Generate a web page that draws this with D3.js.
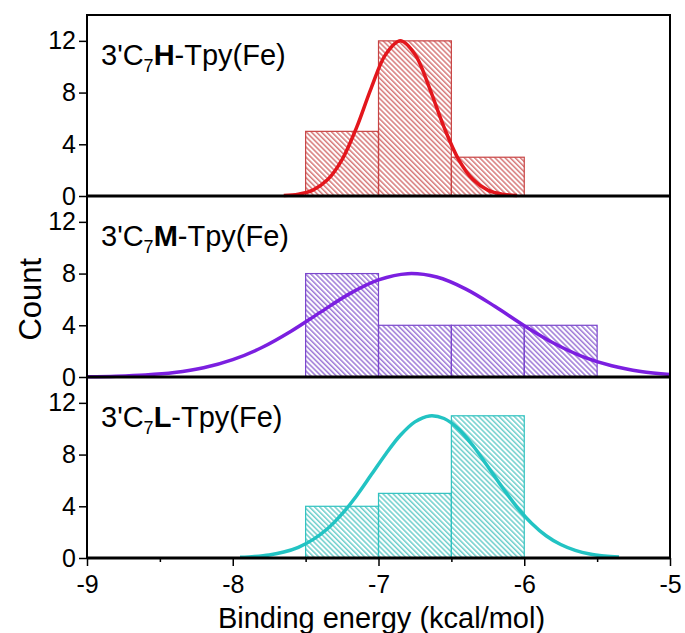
<!DOCTYPE html>
<html>
<head>
<meta charset="utf-8">
<script src="https://cdn.jsdelivr.net/npm/d3@7"></script>
<style>
  html, body { margin: 0; padding: 0; background: #fff; }
  svg { display: block; }
  text { font-family: "Liberation Sans", Arial, sans-serif; fill: #000; }
</style>
</head>
<body>
<div id="chart"></div>
<script>
// ---------------- data ----------------
const panelNames = ["H", "M", "L"];
const binWidth = 0.5;

const hBinStarts = [-7.5, -7.0, -6.5];
const hCounts    = [5, 12, 3];
const mBinStarts = [-7.5, -7.0, -6.5, -6.0];
const mCounts    = [8, 4, 4, 4];
const lBinStarts = [-7.5, -7.0, -6.5];
const lCounts    = [4, 5, 11];

// fitted curves
const hCurveX = [-7.65,-7.55,-7.45,-7.35,-7.25,-7.15,-7.05,-6.95,-6.85,-6.75,-6.65,-6.55,-6.45,-6.35,-6.25,-6.15,-6.05];
const hCurveY = [0.04,0.14,0.46,1.25,2.82,5.31,8.35,10.96,12.0,10.96,8.35,5.31,2.82,1.25,0.46,0.14,0.04];
const mCurveX = [-9.0,-8.8,-8.6,-8.4,-8.2,-8.0,-7.8,-7.6,-7.4,-7.2,-7.0,-6.8,-6.6,-6.4,-6.2,-6.0,-5.8,-5.6,-5.4,-5.2,-5.0];
const mCurveY = [0.02,0.06,0.15,0.34,0.71,1.34,2.28,3.54,5.00,6.43,7.51,7.99,7.73,6.80,5.45,3.97,2.63,1.58,0.87,0.43,0.20];
const lCurveX = [-7.95,-7.85,-7.75,-7.65,-7.55,-7.45,-7.35,-7.25,-7.15,-7.05,-6.95,-6.85,-6.75,-6.65,-6.55,-6.45,-6.35,-6.25,-6.15,-6.05,-5.95,-5.85,-5.75,-5.65,-5.55,-5.45,-5.35];
const lCurveY = [0.05,0.12,0.24,0.46,0.83,1.42,2.26,3.41,4.82,6.43,8.05,9.49,10.53,10.99,10.79,9.97,8.66,7.08,5.45,3.94,2.69,1.72,1.04,0.59,0.31,0.16,0.07];

const xTicks = [-9, -8, -7, -6, -5];
const xMinorTicks = [-8.5, -7.5, -6.5, -5.5];
const yTicks = [0, 4, 8, 12];
const xDomain = [-9, -5];
const yDomain = [0, 14];

const xTitle = "Binding energy (kcal/mol)";
const yTitle = "Count";
const labelPrefix = "3'C";
const labelSub = "7";
const labelSuffix = "-Tpy(Fe)";

// ---------------- styles ----------------
const panels = [
  { name: panelNames[0], starts: hBinStarts, counts: hCounts, cx: hCurveX, cy: hCurveY, line: "#e3161c", hatch: "#c84848", edge: "#c84444" },
  { name: panelNames[1], starts: mBinStarts, counts: mCounts, cx: mCurveX, cy: mCurveY, line: "#7b1fe0", hatch: "#7a48c8", edge: "#7a46cc" },
  { name: panelNames[2], starts: lBinStarts, counts: lCounts, cx: lCurveX, cy: lCurveY, line: "#22c3c3", hatch: "#38bdb9", edge: "#30c2c0" }
];

const W = 685, H = 633;
const left = 87, right = 670, top0 = 15, ph = 181;
const fontFam = "Liberation Sans, Arial, sans-serif";

const svg = d3.select("#chart").append("svg").attr("width", W).attr("height", H);
const defs = svg.append("defs");

panels.forEach((p, i) => {
  const pat = defs.append("pattern")
    .attr("id", "hatch" + i)
    .attr("patternUnits", "userSpaceOnUse")
    .attr("width", 3.6).attr("height", 10)
    .attr("patternTransform", "rotate(-45)");
  pat.append("line").attr("x1", 0.8).attr("y1", 0).attr("x2", 0.8).attr("y2", 10)
    .attr("stroke", p.hatch).attr("stroke-width", 1.1);
});

const x = d3.scaleLinear().domain(xDomain).range([left, right]);

panels.forEach((p, i) => {
  const t = top0 + i * ph;
  const y = d3.scaleLinear().domain(yDomain).range([t + ph, t]);
  const g = svg.append("g");

  // bars
  g.selectAll("rect.bar").data(p.starts.map((s, k) => ({ s, c: p.counts[k] })))
    .enter().append("rect").attr("class", "bar")
    .attr("x", d => x(d.s)).attr("width", d => x(d.s + binWidth) - x(d.s))
    .attr("y", d => y(d.c)).attr("height", d => y(0) - y(d.c))
    .attr("fill", "url(#hatch" + i + ")")
    .attr("stroke", p.edge).attr("stroke-width", 1.2);

  // curve
  const line = d3.line().x(d => x(d[0])).y(d => y(d[1])).curve(d3.curveCatmullRom);
  g.append("path").datum(p.cx.map((v, k) => [v, p.cy[k]]))
    .attr("d", line).attr("fill", "none")
    .attr("stroke", p.line).attr("stroke-width", 3.5);

  // frame
  g.append("rect").attr("x", left).attr("y", t).attr("width", right - left).attr("height", ph)
    .attr("fill", "none").attr("stroke", "#000").attr("stroke-width", 2);
  // thick baseline
  g.append("line").attr("x1", left).attr("x2", right).attr("y1", y(0)).attr("y2", y(0))
    .attr("stroke", "#000").attr("stroke-width", 3);

  // y axis
  const ya = g.append("g").attr("transform", `translate(${left},0)`)
    .call(d3.axisLeft(y).tickValues(yTicks).tickSize(8).tickPadding(3).tickFormat(d => String(d)));
  ya.select(".domain").remove();
  ya.selectAll(".tick line").attr("stroke", "#000").attr("stroke-width", 1.5);
  ya.selectAll(".tick text").attr("font-size", 25).attr("font-family", fontFam).attr("fill", "#000");

  // panel label
  const lbl = g.append("text").attr("x", 101).attr("y", t + 50).attr("font-size", 29);
  lbl.append("tspan").text(labelPrefix);
  lbl.append("tspan").text(labelSub).attr("font-size", 18).attr("dy", 7);
  lbl.append("tspan").text(p.name).attr("font-weight", "bold").attr("dy", -7);
  lbl.append("tspan").text(labelSuffix);

  if (i === panels.length - 1) {
    const xa = g.append("g").attr("transform", `translate(0,${y(0)})`)
      .call(d3.axisBottom(x).tickValues(xTicks).tickSize(8).tickPadding(9).tickFormat(d => String(d)));
    xa.select(".domain").remove();
    xa.selectAll(".tick line").attr("stroke", "#000").attr("stroke-width", 1.5);
    xa.selectAll(".tick text").attr("font-size", 25).attr("font-family", fontFam).attr("fill", "#000");
    const xm = g.append("g").attr("transform", `translate(0,${y(0)})`)
      .call(d3.axisBottom(x).tickValues(xMinorTicks).tickSize(4).tickFormat(""));
    xm.select(".domain").remove();
    xm.selectAll(".tick line").attr("stroke", "#000").attr("stroke-width", 1.5);
  }
});

// axis titles
svg.append("text").attr("x", (left + right) / 2 + 3).attr("y", 628)
  .attr("text-anchor", "middle").attr("font-size", 29).text(xTitle);
svg.append("text").attr("transform", `translate(41,${top0 + 1.57 * ph}) rotate(-90)`)
  .attr("text-anchor", "middle").attr("font-size", 31).text(yTitle);
</script>
</body>
</html>
